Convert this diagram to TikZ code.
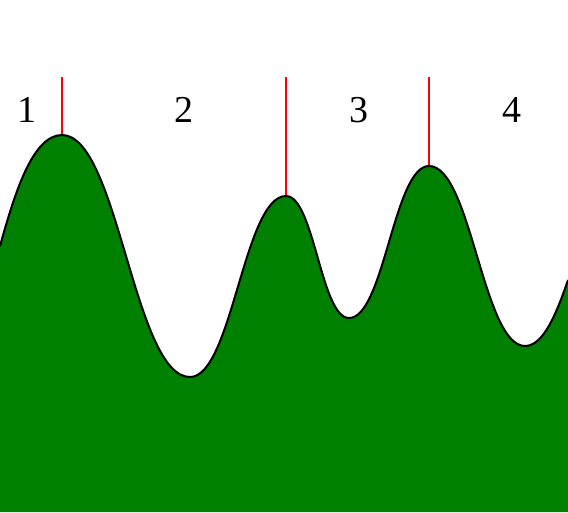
\documentclass[tikz,border=0pt]{standalone}
\usepackage{fontspec}
\setmainfont{Liberation Serif}
\definecolor{hill}{RGB}{0,128,0}
\tikzset{
  summit/.style={draw=red, line width=2pt},
  rim/.style={draw=black, line width=2pt},
  region/.style={font=\fontsize{38}{44}\selectfont, inner sep=0pt},
  ridge/.style={insert path={
    .. controls +(14,50) and +(-30,0) .. (p1)
    .. controls +(56,0) and +(-56,0) .. (v1)
    .. controls +(42,0) and +(-42,0) .. (p2)
    .. controls +(28,0) and +(-28,0) .. (v2)
    .. controls +(35,0) and +(-35,0) .. (p3)
    .. controls +(42,0) and +(-42,0) .. (v3)
    .. controls +(18,0) and +(-12,-35) .. (e1)}}
}
\begin{document}
\begin{tikzpicture}[x=1pt,y=1pt]
\useasboundingbox (0,0) rectangle (568,512);
% peaks and valleys of the ridge
\coordinate (e0) at (0,266);
\coordinate (p1) at (62,377);
\coordinate (v1) at (190,135);
\coordinate (p2) at (286,316);
\coordinate (v2) at (349,194);
\coordinate (p3) at (429,346);
\coordinate (v3) at (525,166);
\coordinate (e1) at (568,232);
\coordinate (b0) at (0,0);
\coordinate (b1) at (568,0);
% tops of the dividers
\coordinate (t1) at (62,435);
\coordinate (t2) at (286,435);
\coordinate (t3) at (429,435);

\fill[hill] (b0) -- (e0) [ridge] -- (b1) -- cycle;
\draw[summit] (t1) -- (p1);
\draw[summit] (t2) -- (p2);
\draw[summit] (t3) -- (p3);
\draw[rim] (e0) [ridge];

\node[region] (r1) at (27,402) {1};
\node[region] (r2) at (184,402) {2};
\node[region] (r3) at (359,402) {3};
\node[region] (r4) at (512,402) {4};
\end{tikzpicture}
\end{document}
